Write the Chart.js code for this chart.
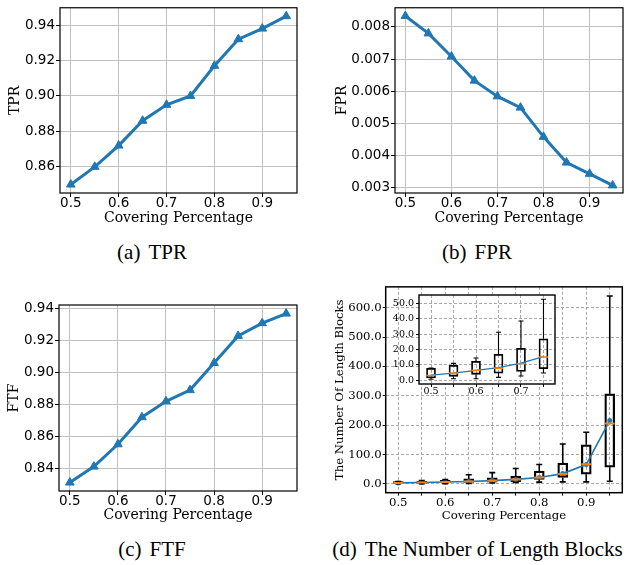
<!DOCTYPE html>
<html><head><meta charset="utf-8">
<script src="https://cdn.jsdelivr.net/npm/chart.js@4.4.1/dist/chart.umd.min.js"></script>
<style>
html,body{margin:0;padding:0;background:#fff;}
#wrap{position:relative;width:629px;height:565px;overflow:hidden;background:#fff;}
canvas{position:absolute;}
.cap{position:absolute;font-family:'Liberation Serif','Times New Roman',serif;font-size:21px;line-height:22px;color:#000;white-space:pre;text-align:center;}
.gap{display:inline-block;width:8px;}
</style></head><body>
<div id="wrap">
<canvas id="ca" width="310" height="232" style="left:0px;top:0px"></canvas>
<canvas id="cb" width="309" height="232" style="left:320px;top:0px"></canvas>
<canvas id="cc" width="310" height="245" style="left:0px;top:280px"></canvas>
<canvas id="cd" width="309" height="245" style="left:320px;top:280px"></canvas>
<canvas id="ci" width="180" height="112" style="left:385px;top:288px"></canvas>
<div class="cap" style="left:0px;width:304px;top:241px">(a)<span class="gap"></span>TPR</div>
<div class="cap" style="left:327px;width:300px;top:241px">(b)<span class="gap"></span>FPR</div>
<div class="cap" style="left:0px;width:304px;top:538px">(c)<span class="gap"></span>FTF</div>
<div class="cap" style="left:326px;width:303px;top:538px">(d)<span class="gap"></span>The Number of Length Blocks</div>
</div>
<script>
// ---- data ----
const coverage = [0.5, 0.55, 0.6, 0.65, 0.7, 0.75, 0.8, 0.85, 0.9, 0.95];
const tpr = [0.850, 0.860, 0.872, 0.886, 0.895, 0.900, 0.917, 0.932, 0.938, 0.945];
const fpr = [0.00834, 0.00780, 0.00708, 0.00633, 0.00584, 0.00549, 0.00458, 0.00378, 0.00343, 0.00307];
const ftf = [0.831, 0.841, 0.855, 0.872, 0.882, 0.889, 0.906, 0.923, 0.931, 0.937];
const blockLow  = [0.7, 1.0, 1.0, 1.9, 2.8, 4.7, 6, 7, 7, 9];
const blockQ1   = [1.5, 2.6, 3.9, 4.7, 5.8, 7.5, 15, 22, 33, 57];
const blockMed  = [3.2, 4.7, 6.5, 7.8, 10.8, 15.1, 22, 34, 67, 206];
const blockQ3   = [7.8, 9.7, 12.3, 16.9, 20.8, 27.0, 44, 71, 133, 307];
const blockHigh = [8.0, 11.0, 14.5, 31.2, 38.5, 52.6, 66, 136, 176, 640];
const blockMean = [3.4, 4.7, 6.5, 8.2, 11.2, 15.3, 22, 35, 66, 216];
const xTickLabels = ['0.5', '0.6', '0.7', '0.8', '0.9'];
const blockTicks = [0, 100, 200, 300, 400, 500, 600];
const insetTicks = [0, 10, 20, 30, 40, 50];
const insetCount = 6;

Chart.defaults.color = '#000';
Chart.defaults.animation = false;
Chart.defaults.plugins.legend.display = false;
Chart.defaults.plugins.tooltip.enabled = false;

const BLUE = '#1f77b4', ORANGE = '#ff7f0e';

const framePlugin = {
  id: 'frame',
  afterDraw(chart, args, o) {
    const a = chart.chartArea, c = chart.ctx;
    c.save(); c.strokeStyle = '#000'; c.lineWidth = o.width || 1;
    c.strokeRect(a.left, a.top, a.right - a.left, a.bottom - a.top);
    c.restore();
  }
};
const bgPlugin = {
  id: 'areabg',
  beforeDraw(chart, args, o) {
    if (!o.color) return;
    const a = chart.chartArea, c = chart.ctx;
    c.save(); c.fillStyle = o.color;
    c.fillRect(a.left, a.top, a.right - a.left, a.bottom - a.top);
    c.restore();
  }
};
const whiskerPlugin = {
  id: 'whiskers',
  afterDatasetsDraw(chart, args, o) {
    if (!o.pos) return;
    const xs = chart.scales.x, ys = chart.scales.y, c = chart.ctx;
    c.save();
    c.beginPath(); const a = chart.chartArea; c.rect(a.left, a.top, a.right - a.left, a.bottom - a.top); c.clip();
    for (let i = 0; i < o.pos.length; i++) {
      const px = xs.getPixelForValue(o.pos[i]);
      const yl = ys.getPixelForValue(o.low[i]), yq1 = ys.getPixelForValue(o.q1[i]);
      const yq3 = ys.getPixelForValue(o.q3[i]), yh = ys.getPixelForValue(o.high[i]);
      c.strokeStyle = '#000'; c.lineWidth = o.lw;
      c.beginPath();
      c.moveTo(px, yq1); c.lineTo(px, yl);
      c.moveTo(px, yq3); c.lineTo(px, yh);
      c.moveTo(px - o.cap / 2, yl); c.lineTo(px + o.cap / 2, yl);
      c.moveTo(px - o.cap / 2, yh); c.lineTo(px + o.cap / 2, yh);
      c.stroke();
      const ym = ys.getPixelForValue(o.med[i]);
      c.strokeStyle = ORANGE; c.lineWidth = o.mlw;
      c.beginPath(); c.moveTo(px - o.box / 2, ym); c.lineTo(px + o.box / 2, ym); c.stroke();
    }
    c.restore();
  }
};

const TITLE_FS = 14, TITLE_LH = TITLE_FS * 1.2;
function lineChart(id, values, g, yMin, yMax, yStep, dec, yTitle) {
  return new Chart(document.getElementById(id), {
    type: 'line',
    data: { datasets: [{
      data: coverage.map((x, i) => ({ x: x, y: values[i] })),
      borderColor: BLUE, backgroundColor: BLUE, borderWidth: 3,
      pointStyle: 'triangle', pointRadius: 5, pointBorderWidth: 1, tension: 0
    }]},
    plugins: [framePlugin],
    options: {
      responsive: false, animation: false,
      layout: { padding: { left: 0, top: g.T, right: g.W - g.R, bottom: g.H - (g.tcy + TITLE_LH / 2) } },
      plugins: { frame: { width: 1.2 } },
      scales: {
        x: {
          type: 'linear', min: 0.4775, max: 0.9725,
          afterFit: s => { s.height = (g.tcy + TITLE_LH / 2) - g.B; },
          ticks: { stepSize: 0.1, includeBounds: false, autoSkip: false, maxRotation: 0, padding: 0,
            font: { family: 'DejaVu Sans', size: 13.5, lineHeight: 1 },
            callback: v => { const s = v.toFixed(1); return xTickLabels.includes(s) ? s : ''; } },
          grid: { color: '#c0c0c0', lineWidth: 1, tickColor: '#000', tickLength: 4 },
          border: { display: false },
          title: { display: true, text: 'Covering Percentage', padding: 0,
            font: { family: 'DejaVu Serif', size: TITLE_FS, lineHeight: 1.2 } }
        },
        y: {
          type: 'linear', min: yMin, max: yMax,
          afterFit: s => { s.width = g.L; },
          ticks: { stepSize: yStep, includeBounds: false, padding: 1,
            font: { family: 'DejaVu Sans', size: 13.5, lineHeight: 1 },
            callback: v => v.toFixed(dec) },
          grid: { color: '#c0c0c0', lineWidth: 1, tickColor: '#000', tickLength: 4 },
          border: { display: false },
          title: { display: true, text: yTitle, padding: { top: g.ycx - TITLE_LH / 2, bottom: 0 },
            font: { family: 'DejaVu Serif', size: TITLE_FS, lineHeight: 1.2 } }
        }
      }
    }
  });
}

lineChart('ca', tpr, { W: 310, H: 232, L: 60, T: 7, R: 297, B: 193, tcy: 218, ycx: 15 },
  0.84525, 0.94975, 0.02, 2, 'TPR');
lineChart('cb', fpr, { W: 309, H: 232, L: 75, T: 7, R: 303, B: 193, tcy: 218, ycx: 22 },
  0.002833, 0.008598, 0.001, 3, 'FPR');
lineChart('cc', ftf, { W: 310, H: 245, L: 59, T: 25, R: 297, B: 211, tcy: 235.5, ycx: 14.5 },
  0.8257, 0.9424, 0.02, 2, 'FTF');

// ---- box plot (d) ----
function boxChart(id, n, g, opt) {
  const pos = coverage.slice(0, n);
  const fs = opt.fs, lh = fs * 1.2;
  const hasTitle = !!opt.xTitle;
  const xBottom = hasTitle ? (g.tcy + lh / 2) : g.H;
  const dash = [3, 2];
  return new Chart(document.getElementById(id), {
    type: 'bar',
    data: { datasets: [
      { type: 'line', data: pos.map((x, i) => ({ x: x, y: blockMean[i] })),
        borderColor: BLUE, backgroundColor: BLUE, borderWidth: opt.mw, pointRadius: opt.pr, pointBorderWidth: 0, tension: 0 },
      { type: 'bar', data: pos.map((x, i) => ({ x: x, y: [blockQ1[i], blockQ3[i]] })),
        backgroundColor: 'rgba(0,0,0,0)', borderColor: '#000', borderWidth: opt.bw,
        borderSkipped: false, barThickness: opt.box, grouped: false }
    ]},
    plugins: [bgPlugin, whiskerPlugin, framePlugin],
    options: {
      responsive: false, animation: false,
      layout: { padding: { left: 0, top: g.T, right: g.W - g.R, bottom: g.H - xBottom } },
      plugins: {
        frame: { width: opt.fw },
        areabg: { color: opt.bg || null },
        whiskers: { pos: pos, low: blockLow.slice(0, n), q1: blockQ1.slice(0, n), q3: blockQ3.slice(0, n),
          high: blockHigh.slice(0, n), med: blockMed.slice(0, n), lw: opt.bw, cap: opt.cap, box: opt.box, mlw: opt.mlw }
      },
      scales: {
        x: {
          type: 'linear', min: opt.xmin, max: opt.xmax, offset: false,
          afterFit: s => { s.height = xBottom - g.B; },
          ticks: { stepSize: 0.05, includeBounds: false, autoSkip: false, maxRotation: 0, padding: opt.xpad,
            font: { family: 'DejaVu Serif', size: fs, lineHeight: 1 },
            callback: v => { const s = v.toFixed(1); return (Math.abs(v * 10 - Math.round(v * 10)) < 1e-6 && xTickLabels.includes(s)) ? s : ''; } },
          grid: { offset: false, color: '#a8a8a8', lineWidth: 1, tickColor: '#000', tickLength: 3, tickBorderDash: [] },
          border: { display: false, dash: dash },
          title: { display: hasTitle, text: opt.xTitle || '', padding: 0,
            font: { family: 'DejaVu Serif', size: fs, lineHeight: 1.2 } }
        },
        y: {
          type: 'linear', min: opt.ymin, max: opt.ymax,
          afterFit: s => { s.width = g.L; },
          afterBuildTicks: s => { s.ticks = opt.yticks.map(v => ({ value: v })); },
          ticks: { autoSkip: false, padding: opt.ypad,
            font: { family: 'DejaVu Serif', size: fs, lineHeight: 1 },
            callback: v => Number(v).toFixed(1) },
          grid: { color: '#a8a8a8', lineWidth: 1, tickColor: '#000', tickLength: 3, tickBorderDash: [] },
          border: { display: false, dash: dash },
          title: { display: !!opt.yTitle, text: opt.yTitle || '', padding: { top: (g.ycx || 0) - lh / 2, bottom: 0 },
            font: { family: 'DejaVu Serif', size: fs, lineHeight: 1.2 } }
        }
      }
    }
  });
}

boxChart('cd', coverage.length,
  { W: 309, H: 245, L: 65.7, T: 3.3, R: 302.3, B: 212.7, tcy: 236, ycx: 20 },
  { fs: 11.7, xTitle: 'Covering Percentage', yTitle: 'The Number Of Length Blocks',
    xmin: 0.4733, xmax: 0.9767, ymin: -30, ymax: 671, yticks: blockTicks,
    mw: 1.6, pr: 2.5, bw: 1.6, box: 10, cap: 6, mlw: 2, fw: 1.5, xpad: 1, ypad: 1 });

boxChart('ci', insetCount,
  { W: 180, H: 112, L: 34, T: 7, R: 170, B: 96 },
  { fs: 9.5, bg: '#ffffff',
    xmin: 0.4733, xmax: 0.7756, ymin: -2.4, ymax: 55.4, yticks: insetTicks,
    mw: 1.3, pr: 0, bw: 1.1, box: 9, cap: 5, mlw: 1.5, fw: 1.4, xpad: 0, ypad: 2 });
</script>
</body></html>
